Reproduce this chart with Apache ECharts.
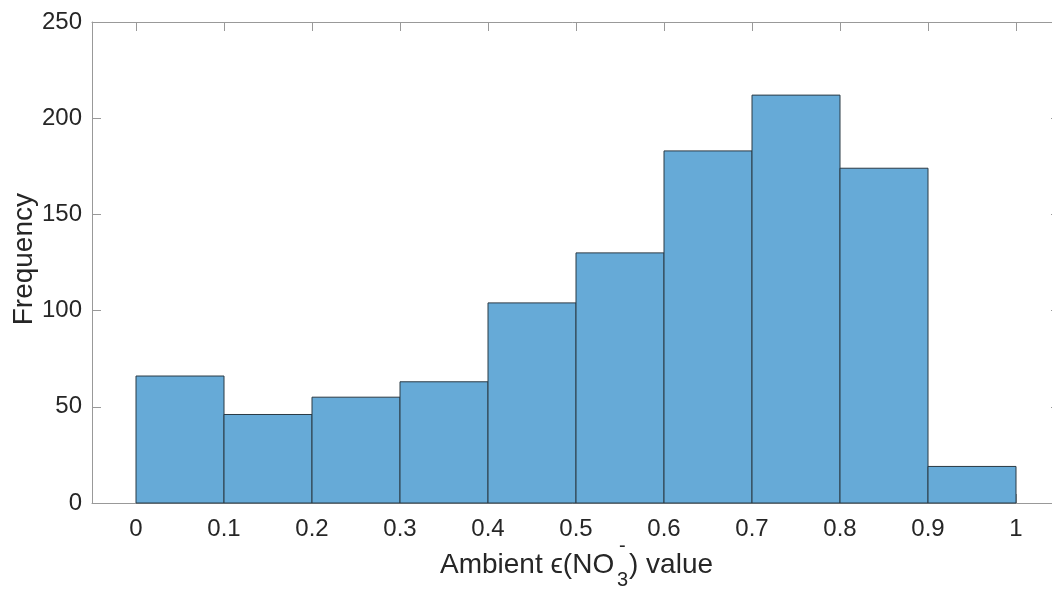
<html>
<head>
    <meta charset="utf-8">
    <title>Ambient epsilon histogram</title>
    <script src="https://cdn.jsdelivr.net/npm/echarts@6/dist/echarts.min.js"></script>
    <style>
        body { margin: 0; background: #fff; }
    </style>
</head>
<body>
<div id="main" style="width: 1052px;height:596px;"></div>
<script type="text/javascript">
    // bin edges and counts
    var binStart = [0, 0.1, 0.2, 0.3, 0.4, 0.5, 0.6, 0.7, 0.8, 0.9];
    var binEnd = [0.1, 0.2, 0.3, 0.4, 0.5, 0.6, 0.7, 0.8, 0.9, 1.0];
    var counts = [66, 46, 55, 63, 104, 130, 183, 212, 174, 19];
    var xTicks = [0, 0.1, 0.2, 0.3, 0.4, 0.5, 0.6, 0.7, 0.8, 0.9, 1];

    var font = "'Liberation Sans', Arial, Helvetica, sans-serif";
    var textColor = '#262626';
    var lineColor = '#999999';

    var bins = [];
    for (var i = 0; i < counts.length; i++) {
        bins.push([binStart[i], binEnd[i], counts[i]]);
    }

    var myChart = echarts.init(document.getElementById('main'));

    function axisX(show) {
        return {
            type: 'value',
            min: -0.05,
            max: 1.05,
            position: show ? 'bottom' : 'top',
            axisLine: { show: true, onZero: false, lineStyle: { color: lineColor, width: 1 } },
            axisTick: { show: true, inside: true, length: 9, customValues: xTicks, lineStyle: { color: lineColor } },
            axisLabel: {
                show: show, customValues: xTicks, margin: 14,
                color: textColor, fontSize: 24, fontFamily: font,
                formatter: function (v) { return String(Math.round(v * 10) / 10); }
            },
            splitLine: { show: false }
        };
    }

    function axisY(show) {
        return {
            type: 'value',
            min: 0,
            max: 250,
            interval: 50,
            position: show ? 'left' : 'right',
            axisLine: { show: true, onZero: false, lineStyle: { color: lineColor, width: 1 } },
            axisTick: { show: true, inside: true, length: 9, lineStyle: { color: lineColor } },
            axisLabel: { show: show, margin: 10, color: textColor, fontSize: 24, fontFamily: font },
            splitLine: { show: false }
        };
    }

    myChart.setOption({
        animation: false,
        grid: { left: 92, top: 22, width: 968, height: 481, outerBoundsMode: 'none', containLabel: false },
        xAxis: [axisX(true), axisX(false)],
        yAxis: [axisY(true), axisY(false)],
        graphic: [
            { type: 'text', left: 10, top: 193, rotation: Math.PI / 2,
              style: { text: 'Frequency', fontSize: 28, fontFamily: font, fill: textColor } },
            { type: 'text', x: 440, y: 565,
              style: { text: 'Ambient \u03f5(NO', fontSize: 28, fontFamily: font, fill: textColor, verticalAlign: 'middle' } },
            { type: 'text', x: 617, y: 580,
              style: { text: '3', fontSize: 20, fontFamily: font, fill: textColor, verticalAlign: 'middle' } },
            { type: 'text', x: 619, y: 546,
              style: { text: '-', fontSize: 20, fontFamily: font, fill: textColor, verticalAlign: 'middle' } },
            { type: 'text', x: 629, y: 565,
              style: { text: ') value', fontSize: 28, fontFamily: font, fill: textColor, verticalAlign: 'middle' } }
        ],
        series: [{
            type: 'custom',
            xAxisIndex: 0,
            yAxisIndex: 0,
            data: bins,
            encode: { x: [0, 1], y: 2 },
            renderItem: function (params, api) {
                var p0 = api.coord([api.value(0), 0]);
                var p1 = api.coord([api.value(1), api.value(2)]);
                return {
                    type: 'rect',
                    shape: { x: p0[0], y: p1[1], width: p1[0] - p0[0], height: p0[1] - p1[1] },
                    style: { fill: '#66aad7', stroke: '#2b3a45', lineWidth: 1 }
                };
            }
        }]
    });
</script>
</body>
</html>
